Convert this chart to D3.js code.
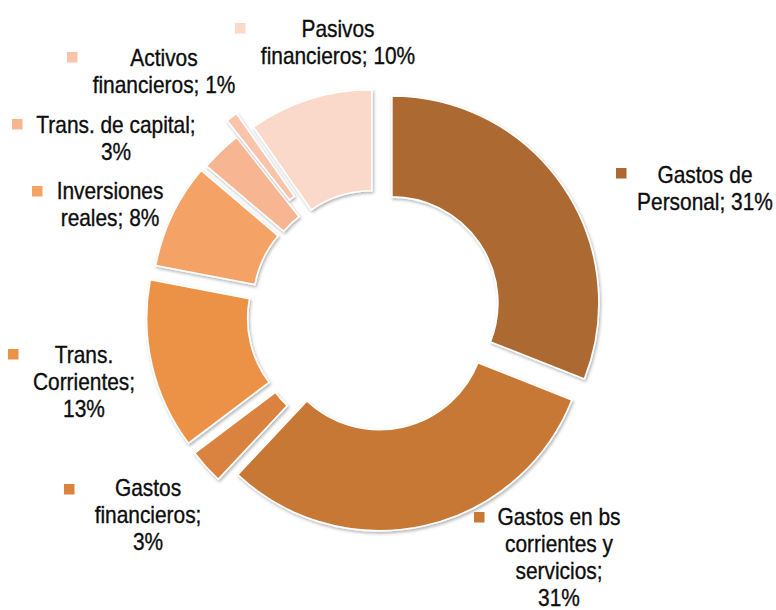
<!DOCTYPE html>
<html>
<head>
<meta charset="utf-8">
<script src="https://cdn.jsdelivr.net/npm/d3@7"></script>
<style>
  html, body { margin: 0; padding: 0; background: #ffffff; }
  svg { display: block; }
  .lbl { font-family: "Liberation Sans", Arial, sans-serif; font-size: 24px; fill: #0d0d0d; stroke: #0d0d0d; stroke-width: 0.35px; }
</style>
</head>
<body>
<svg id="chart" width="776" height="610"></svg>
<script>
// ---- data ----
const categories = [
  "Gastos de Personal",
  "Gastos en bs corrientes y servicios",
  "Gastos financieros",
  "Trans. Corrientes",
  "Inversiones reales",
  "Trans. de capital",
  "Activos financieros",
  "Pasivos financieros"
];
const values = [31.0, 31.0, 2.7, 13.3, 8.2, 3.2, 0.9, 9.7];
// label text lines ("{p}" is replaced by the rounded percentage)
const labelLines = [
  ["Gastos de", "Personal; {p}"],
  ["Gastos en bs", "corrientes y", "servicios;", "{p}"],
  ["Gastos", "financieros;", "{p}"],
  ["Trans.", "Corrientes;", "{p}"],
  ["Inversiones", "reales; {p}"],
  ["Trans. de capital;", "{p}"],
  ["Activos", "financieros; {p}"],
  ["Pasivos", "financieros; {p}"]
];
const colors = ["#AC6930", "#C77836", "#DA833F", "#EC9246", "#F5A266", "#F7B592", "#F9C4AA", "#FAD8CA"];

// ---- layout (styling / positioning only) ----
const center = [377, 313];
const rInner = 106, rOuter = 207;
const explode = [18, 11, 23, 24, 20, 18, 37, 17];
const labelPos = [ // text centre x, first-line baseline y
  [705, 183], [559, 525], [148, 496], [84, 363],
  [110, 199], [116, 133], [164, 66], [338, 37]
];
const keyPos = [ // legend-key square, top-left
  [616, 168], [474, 512], [64, 484], [8, 349],
  [32, 186], [12, 119], [67, 52], [235, 23]
];
const lineH = 27, textScaleX = 0.87, keySize = 10.5;

const svg = d3.select("#chart");
const defs = svg.append("defs");
const f = defs.append("filter").attr("id", "shadow")
  .attr("x", "-20%").attr("y", "-20%").attr("width", "140%").attr("height", "140%");
f.append("feDropShadow").attr("dx", 1.2).attr("dy", 1.8).attr("stdDeviation", 1.6)
  .attr("flood-color", "#000").attr("flood-opacity", 0.3);

const total = d3.sum(values);
const pie = d3.pie().sort(null).value(d => d)(values);
const arc = d3.arc().innerRadius(rInner).outerRadius(rOuter);

const g = svg.append("g").attr("transform", `translate(${center[0]},${center[1]})`);
g.selectAll("path.slice").data(pie).enter().append("path")
  .attr("class", "slice")
  .attr("transform", (d, i) => {
    const a = (d.startAngle + d.endAngle) / 2;
    return `translate(${Math.sin(a) * explode[i]},${-Math.cos(a) * explode[i]})`;
  })
  .attr("d", arc)
  .attr("fill", (d, i) => colors[i])
  .attr("stroke", "#ffffff")
  .attr("stroke-width", 1.6)
  .attr("stroke-linejoin", "miter")
  .attr("filter", "url(#shadow)");

// ---- labels ----
categories.forEach((c, i) => {
  const pct = Math.round(values[i] / total * 100) + "%";
  const lines = labelLines[i].map(s => s.replace("{p}", pct));
  const lg = svg.append("g").attr("transform", `translate(${labelPos[i][0]},${labelPos[i][1]})`);
  const tg = lg.append("g").attr("transform", `scale(${textScaleX},1)`);
  lines.forEach((s, k) => {
    tg.append("text").attr("class", "lbl")
      .attr("x", 0).attr("y", k * lineH)
      .attr("text-anchor", "middle").text(s);
  });
  svg.append("rect")
    .attr("x", keyPos[i][0]).attr("y", keyPos[i][1])
    .attr("width", keySize).attr("height", keySize)
    .attr("fill", colors[i]);
});
</script>
</body>
</html>
